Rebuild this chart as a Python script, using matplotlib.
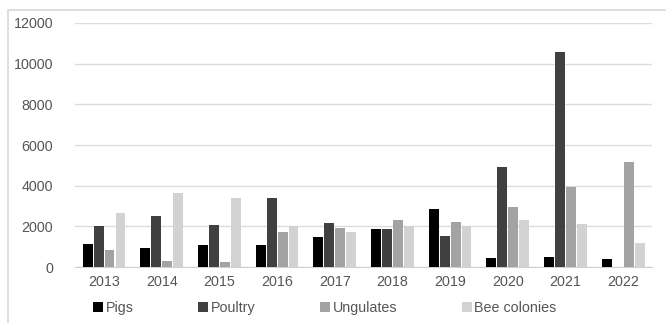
import matplotlib
matplotlib.use("Agg")
import matplotlib.pyplot as plt
import numpy as np
from matplotlib.patches import Rectangle

years = ["2013", "2014", "2015", "2016", "2017", "2018", "2019", "2020", "2021", "2022"]
pigs = [1130, 950, 1100, 1065, 1460, 1880, 2865, 425, 475, 395]
poultry = [2015, 2520, 2080, 3375, 2160, 1880, 1510, 4930, 10550, 0]
ungulates = [835, 280, 245, 1720, 1915, 2340, 2195, 2965, 3930, 5160]
bee_colonies = [2670, 3620, 3400, 2030, 1720, 2015, 2000, 2340, 2100, 1165]

series = [
    ("Pigs", pigs, "#000000"),
    ("Poultry", poultry, "#404040"),
    ("Ungulates", ungulates, "#a3a3a3"),
    ("Bee colonies", bee_colonies, "#d2d2d2"),
]

plt.rcParams["font.family"] = ["Liberation Sans", "DejaVu Sans"]

fig = plt.figure(figsize=(6.66, 3.23), dpi=100)
ax = fig.add_axes([0.113, 0.173, 0.866, 0.756])

x = np.arange(len(years))
width = 0.17
step = 0.19
for i, (name, vals, color) in enumerate(series):
    ax.bar(x + (i - 1.5) * step, vals, width, color=color, label=name, zorder=3)

ax.set_xlim(-0.5, len(years) - 0.5)
ax.set_ylim(0, 12000)
ax.set_yticks(range(0, 12001, 2000))
ax.set_xticks(x)
ax.set_xticklabels(years)
ax.grid(axis="y", color="#dcdcdc", linewidth=1, zorder=0)
for side in ["top", "right", "left"]:
    ax.spines[side].set_visible(False)
ax.spines["bottom"].set_color("#d0d0d0")
ax.tick_params(axis="both", length=0, labelsize=10.3, colors="#555555")
ax.tick_params(axis="y", pad=16)
ax.tick_params(axis="x", pad=6)

leg = fig.legend(loc="lower left", bbox_to_anchor=(0.12, -0.015), ncol=4,
                 frameon=False, fontsize=10.3, handlelength=0.7, handleheight=0.7,
                 handletextpad=0.2, columnspacing=4.5)
for t in leg.get_texts():
    t.set_color("#555555")

# thin frame round the whole chart
fig.patches.append(Rectangle((0.012, -0.01), 0.99, 0.978, transform=fig.transFigure,
                             fill=False, edgecolor="#d8d8d8", linewidth=1.2))

fig.savefig("out.png", dpi=100)
